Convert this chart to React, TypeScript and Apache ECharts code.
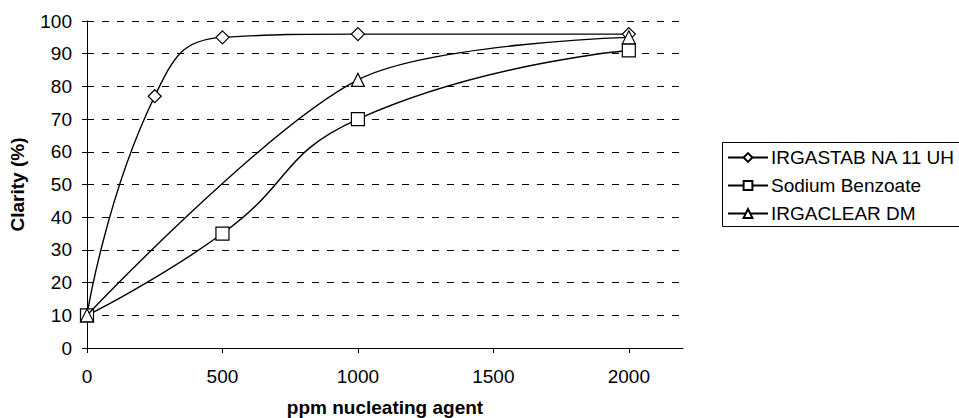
import React, { useEffect, useRef } from "react";
import * as echarts from "echarts";

const seriesNames = ["IRGASTAB NA 11 UH", "Sodium Benzoate", "IRGACLEAR DM"];
const irgastab: [number, number][] = [
  [0, 10],
  [250, 77],
  [500, 95],
  [1000, 96],
  [2000, 96],
];
const sodiumBenzoate: [number, number][] = [
  [0, 10],
  [500, 35],
  [1000, 70],
  [2000, 91],
];
const irgaclear: [number, number][] = [
  [0, 10],
  [1000, 82],
  [2000, 95],
];
const xTicks = [0, 500, 1000, 1500, 2000];
const symbols = ["diamond", "rect", "triangle"];
const smoothness = [0.5, 0.5, 0.3];

const FONT = "'Liberation Sans', Arial, sans-serif";

export default function App() {
  const ref = useRef<HTMLDivElement>(null);
  useEffect(() => {
    if (!ref.current) return;
    const chart = echarts.init(ref.current, undefined, { renderer: "svg" });
    const datas = [irgastab, sodiumBenzoate, irgaclear];
    chart.setOption({
      animation: false,
      backgroundColor: "#fff",
      textStyle: { fontFamily: FONT, color: "#000" },
      grid: {
        left: 87,
        right: 276,
        top: 21,
        bottom: 70,
        containLabel: false,
        outerBoundsMode: "none",
      },
      graphic: [
        {
          type: "rect",
          shape: { x: 722.5, y: 142.5, width: 300, height: 84 },
          style: { fill: "none", stroke: "#000", lineWidth: 1 },
          silent: true,
        },
      ],
      legend: {
        orient: "vertical",
        left: 727,
        top: 148,
        data: seriesNames,
        itemWidth: 40,
        itemHeight: 11,
        itemGap: 9,
        padding: 0,
        textStyle: { fontFamily: FONT, fontSize: 19, color: "#000", padding: [0, 0, 0, -2] },
      },
      xAxis: {
        type: "value",
        min: 0,
        max: 2200,
        interval: 500,
        name: "ppm nucleating agent",
        nameLocation: "middle",
        nameGap: 50,
        nameTextStyle: { fontFamily: FONT, fontSize: 19, fontWeight: "bold", color: "#000" },
        axisLine: { show: true, lineStyle: { color: "#000", width: 1 } },
        axisTick: { show: true, length: 5, lineStyle: { color: "#000" }, customValues: xTicks },
        axisLabel: {
          fontFamily: FONT,
          fontSize: 19,
          color: "#000",
          margin: 19,
          customValues: xTicks,
          formatter: (v: number) => (xTicks.indexOf(v) >= 0 ? String(v) : ""),
        },
        splitLine: { show: false },
      },
      yAxis: {
        type: "value",
        min: 0,
        max: 100,
        interval: 10,
        name: "Clarity (%)",
        nameLocation: "middle",
        nameGap: 60,
        nameTextStyle: { fontFamily: FONT, fontSize: 19, fontWeight: "bold", color: "#000" },
        axisLine: { show: true, lineStyle: { color: "#000", width: 1 } },
        axisTick: { show: true, length: 5, lineStyle: { color: "#000" } },
        axisLabel: { fontFamily: FONT, fontSize: 19, color: "#000", margin: 15 },
        splitLine: {
          show: true,
          lineStyle: { color: "#000", width: 1, type: [7, 8] },
        },
      },
      series: seriesNames.map((name, i) => ({
        name,
        type: "line",
        data: datas[i],
        smooth: smoothness[i],
        symbol: symbols[i],
        symbolSize: 13,
        showSymbol: true,
        lineStyle: { color: "#000", width: 1.4 },
        itemStyle: { color: "#fff", borderColor: "#000", borderWidth: 1.2 },
        z: 3 + i,
      })),
    });
    return () => chart.dispose();
  }, []);
  return (
    <div
      ref={ref}
      style={{ position: "fixed", left: 0, top: 0, width: 959, height: 418, background: "#fff" }}
    />
  );
}
